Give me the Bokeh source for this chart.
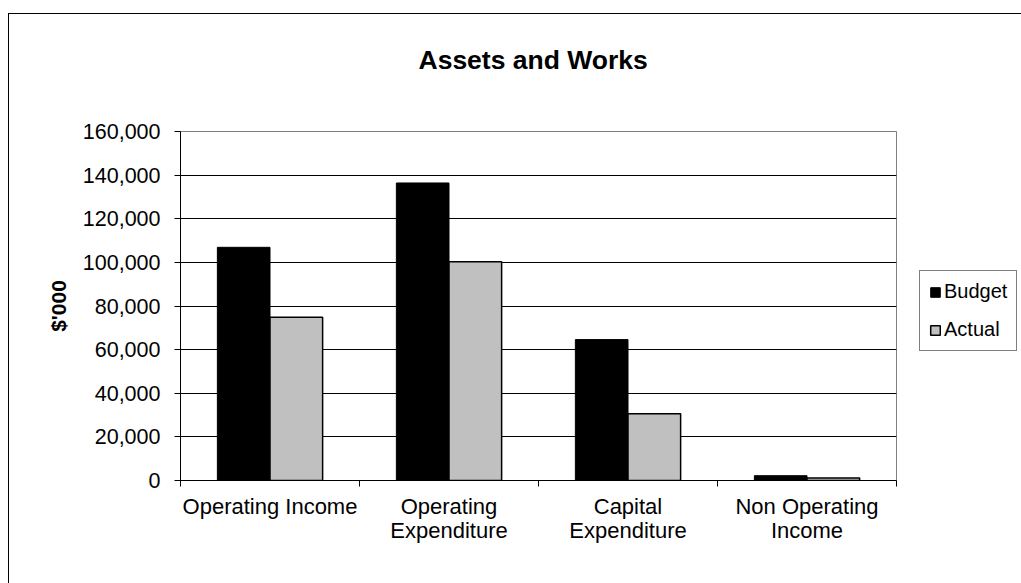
import numpy as np
from bokeh.plotting import figure
from bokeh.models import (ColumnDataSource, FixedTicker, NumeralTickFormatter,
                          Legend, LegendItem, Range1d, Title)
from bokeh.embed import file_html
from bokeh.resources import INLINE

# ---- data ----
categories = ["Operating Income", "Operating\nExpenditure", "Capital\nExpenditure", "Non Operating\nIncome"]
series_names = ["Budget", "Actual"]
budget = [106900, 136400, 64600, 2200]
actual = [74800, 100300, 30600, 1100]
y_ticks = [0, 20000, 40000, 60000, 80000, 100000, 120000, 140000, 160000]
chart_title = "Assets and Works"

FONT = "Liberation Sans"
BAR_W = 0.294

n = len(categories)
centers = np.arange(n) + 0.5

p = figure(width=1011, height=569, output_backend="svg", toolbar_location=None,
           x_range=Range1d(0, n), y_range=Range1d(0, 160000),
           frame_width=716, frame_height=349,
           min_border_left=171, min_border_right=124, min_border_top=117,
           min_border_bottom=103, margin=(14, 0, 0, 9))
p.styles = {"outline": "1px solid #000000"}
p.background_fill_color = "white"
p.border_fill_color = "white"
p.outline_line_color = "#808080"
p.outline_line_width = 1

src_b = ColumnDataSource(dict(x=centers - BAR_W / 2, top=budget))
src_a = ColumnDataSource(dict(x=centers + BAR_W / 2, top=actual))
rb = p.vbar(x="x", top="top", width=BAR_W, bottom=0, source=src_b,
            fill_color="#000000", line_color="#000000", line_width=1)
ra = p.vbar(x="x", top="top", width=BAR_W, bottom=0, source=src_a,
            fill_color="#C0C0C0", line_color="#000000", line_width=1.5)

# real title (outermost) plus a blank spacer title next to the frame
p.title.text = chart_title
p.title.align = "left"
p.title.offset = 238
p.title.text_font = FONT
p.title.text_font_size = "26.5px"
p.title.text_font_style = "bold"
p.title.text_color = "#000000"
p.title.standoff = 0
p.add_layout(Title(text=" ", text_font_size="1px", standoff=54), "above")

# grid
p.xgrid.visible = False
p.ygrid.ticker = FixedTicker(ticks=y_ticks)
p.ygrid.grid_line_color = "#000000"
p.ygrid.grid_line_width = 1

# y axis
ya = p.yaxis[0]
ya.ticker = FixedTicker(ticks=y_ticks)
ya.formatter = NumeralTickFormatter(format="0,0")
ya.axis_label = "$'000"
ya.axis_label_text_font = FONT
ya.axis_label_text_font_size = "21px"
ya.axis_label_text_font_style = "bold"
ya.axis_label_text_color = "#000000"
ya.axis_label_standoff = 10
ya.major_label_text_font = FONT
ya.major_label_text_font_size = "21.5px"
ya.major_label_text_color = "#000000"
ya.major_label_standoff = 14
ya.major_tick_out = 6
ya.major_tick_in = 0
ya.minor_tick_out = 0
ya.minor_tick_in = 0
ya.axis_line_color = "#000000"

# x axis
xa = p.xaxis[0]
xa.ticker = FixedTicker(ticks=list(centers), minor_ticks=list(range(n + 1)))
xa.major_label_overrides = {float(c): lab for c, lab in zip(centers, categories)}
xa.major_label_text_font = FONT
xa.major_label_text_font_size = "22px"
xa.major_label_text_color = "#000000"
xa.major_label_text_line_height = 0.98
xa.major_label_standoff = 7
xa.major_tick_out = 0
xa.major_tick_in = 0
xa.minor_tick_out = 6
xa.minor_tick_in = 0
xa.axis_line_color = "#000000"

# legend (right of the frame)
legend = Legend(items=[LegendItem(label=series_names[0], renderers=[rb]),
                       LegendItem(label=series_names[1], renderers=[ra])],
                location=(23, 129), orientation="vertical")
legend.label_text_font = FONT
legend.label_text_font_size = "20px"
legend.label_text_color = "#000000"
legend.glyph_width = 12
legend.glyph_height = 12
legend.label_standoff = 3
legend.label_height = 20
legend.spacing = 15
legend.padding = 9
legend.margin = 0
legend.border_line_color = "#000000"
legend.border_line_width = 1
legend.background_fill_color = "white"
legend.background_fill_alpha = 1.0
p.add_layout(legend, "right")

open("out.html", "w").write(file_html(p, INLINE))
